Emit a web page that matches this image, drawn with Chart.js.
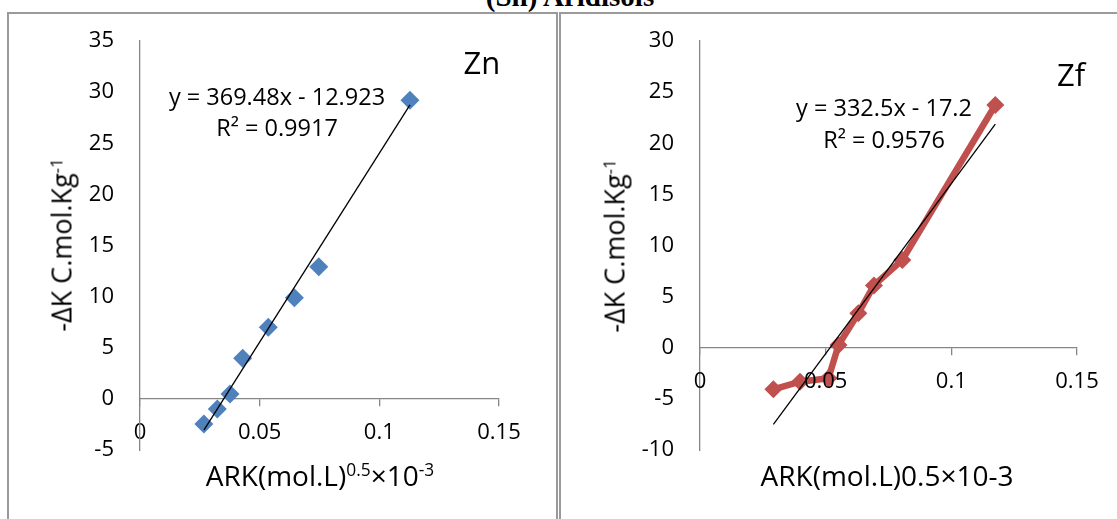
<!DOCTYPE html>
<html><head><meta charset="utf-8">
<script src="https://cdn.jsdelivr.net/npm/chart.js@4"></script>
<style>
html,body{margin:0;padding:0;background:#fff;width:1117px;height:519px;overflow:hidden;font-family:'Open Sans',sans-serif;color:#000}
.abs{position:absolute}
.c{position:absolute;transform:translate(-50%,-50%);white-space:nowrap;line-height:1}
.rot{position:absolute;transform:translate(-50%,-50%) rotate(-90deg);white-space:nowrap;line-height:1}
sup{font-size:62%;vertical-align:0.55em;line-height:0}
canvas{position:absolute;top:0}
</style></head><body>
<div class="abs" style="left:0;width:1140px;text-align:center;top:-18px;font:bold 29px 'Liberation Serif',serif;line-height:29px;">(Sn) Aridisols</div>
<div class="abs" style="left:7px;top:12px;width:551px;height:620px;box-sizing:border-box;border:2px solid #9a9a9a"></div>
<div class="abs" style="left:559px;top:12px;width:700px;height:620px;box-sizing:border-box;border:2px solid #9a9a9a"></div>
<canvas id="cZn" width="558" height="519" style="left:0;width:558px;height:519px"></canvas>
<canvas id="cZf" width="559" height="519" style="left:558px;width:559px;height:519px"></canvas>

<div class="c" style="left:482px;top:62px;font-size:31px">Zn</div>
<div class="c" style="left:1071px;top:74px;font-size:31px">Zf</div>
<div class="c" style="left:277px;top:97px;font-size:23.5px">y = 369.48x - 12.923</div>
<div class="c" style="left:277px;top:128px;font-size:23.5px">R² = 0.9917</div>
<div class="c" style="left:884px;top:108px;font-size:23.5px">y = 332.5x - 17.2</div>
<div class="c" style="left:884px;top:140px;font-size:23.5px">R² = 0.9576</div>
<div class="c" style="left:320px;top:475px;font-size:28px">ARK(mol.L)<sup>0.5</sup>×10<sup>-3</sup></div>
<div class="c" style="left:887px;top:475px;font-size:28px">ARK(mol.L)0.5×10-3</div>
<div class="rot" style="left:61px;top:245px;font-size:27px">-ΔK C.mol.Kg<sup>-1</sup></div>
<div class="rot" style="left:614px;top:246px;font-size:27px">-ΔK C.mol.Kg<sup>-1</sup></div>

<script>
// ---- data ----
const xTicks = [0, 0.05, 0.1, 0.15];
const xTickLabels = ['0', '0.05', '0.1', '0.15'];
const znYTicks = [-5, 0, 5, 10, 15, 20, 25, 30, 35];
const zfYTicks = [-10, -5, 0, 5, 10, 15, 20, 25, 30];

const znX = [0.0267, 0.0323, 0.0376, 0.0429, 0.0536, 0.0645, 0.0747, 0.1128];
const znY = [-2.45, -0.99, 0.48, 3.97, 7.0, 9.9, 12.93, 29.2];
const znTrendX = [0.0267, 0.1128];
const znTrendY = [-3.06, 28.75];

const zfX = [0.0292, 0.0398, 0.0511, 0.0551, 0.0630, 0.0692, 0.0805, 0.1175];
const zfY = [-4.06, -3.32, -2.99, 0.27, 3.37, 6.1, 8.58, 23.74];
const zfTrendX = [0.0292, 0.1175];
const zfTrendY = [-7.49, 21.87];

Chart.defaults.font.family = "'Open Sans', sans-serif";

function pts(xs, ys) { return xs.map((x, i) => ({x: x, y: ys[i]})); }

function scalesCfg(yTicks, yAxisWidth, labelsOnTop) {
  return {
    x: {
      type: 'linear', min: 0, max: 0.15, position: {y: 0},
      afterBuildTicks: s => { s.ticks = xTicks.map(v => ({value: v})); },
      afterFit: s => { s.height = 0; },
      ticks: {callback: (v, i) => xTickLabels[i], color: '#000', font: {size: 22}, padding: 14,
              maxRotation: 0, autoSkip: false, z: labelsOnTop ? 1 : 0},
      grid: {display: true, drawOnChartArea: false, drawTicks: true, tickLength: 7, color: '#868686', lineWidth: 1.3},
      border: {display: true, color: '#868686', width: 1.3}
    },
    y: {
      type: 'linear', min: yTicks[0], max: yTicks[yTicks.length - 1], position: 'left',
      afterBuildTicks: s => { s.ticks = yTicks.map(v => ({value: v})); },
      afterFit: s => { s.width = yAxisWidth; },
      ticks: {callback: (v, i) => String(yTicks[i]), color: '#000', font: {size: 22}, padding: 26, autoSkip: false},
      grid: {display: false, drawTicks: false},
      border: {display: true, color: '#868686', width: 1.3}
    }
  };
}

const commonPlugins = {legend: {display: false}, tooltip: {enabled: false}, title: {display: false}};

new Chart(document.getElementById('cZn'), {
  type: 'scatter',
  data: {datasets: [
    {data: pts(znTrendX, znTrendY), showLine: true, borderColor: '#000', borderWidth: 1.3, pointRadius: 0, fill: false},
    {data: pts(znX, znY), showLine: false, pointStyle: 'rectRot', pointRadius: 9.5,
     pointBackgroundColor: '#4F81BD', pointBorderColor: '#4F81BD', pointBorderWidth: 0}
  ]},
  options: {
    responsive: false, animation: false, events: [],
    layout: {padding: {left: 0, right: 59, top: 41, bottom: 69}},
    scales: scalesCfg(znYTicks, 140, false),
    plugins: commonPlugins
  }
});

new Chart(document.getElementById('cZf'), {
  type: 'scatter',
  data: {datasets: [
    {data: pts(zfTrendX, zfTrendY), showLine: true, borderColor: '#000', borderWidth: 1.3, pointRadius: 0, fill: false},
    {data: pts(zfX, zfY), showLine: true, borderColor: '#C0504D', borderWidth: 6.5, tension: 0,
     pointStyle: 'rectRot', pointRadius: 9, pointBackgroundColor: '#C0504D', pointBorderColor: '#C0504D', pointBorderWidth: 0}
  ]},
  options: {
    responsive: false, animation: false, events: [],
    layout: {padding: {left: 0, right: 40, top: 41, bottom: 69}},
    scales: scalesCfg(zfYTicks, 142, true),
    plugins: commonPlugins
  }
});
</script>
</body></html>
